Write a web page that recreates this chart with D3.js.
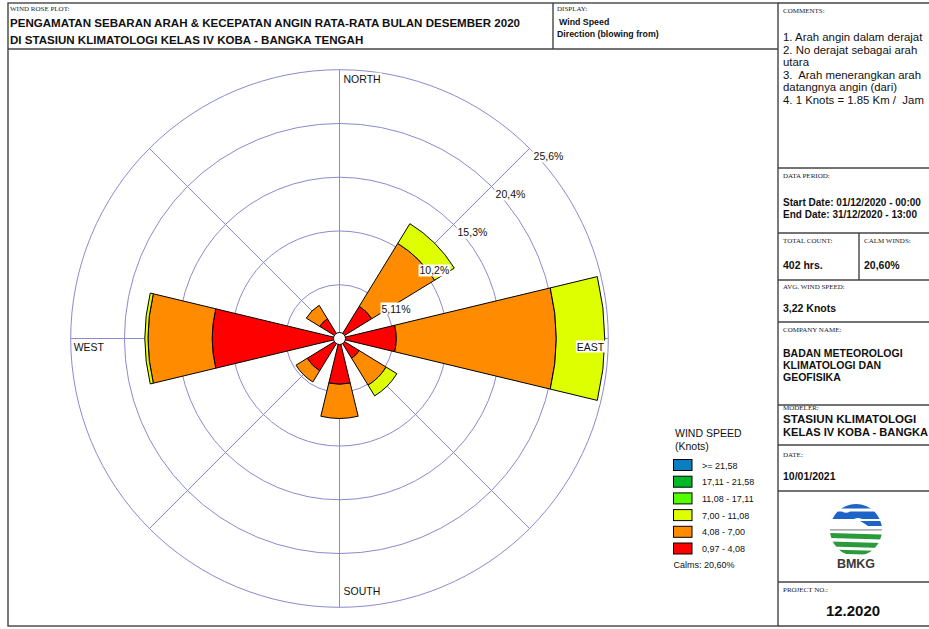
<!DOCTYPE html>
<html><head><meta charset="utf-8">
<script src="https://cdn.jsdelivr.net/npm/d3@7"></script>
<style>
html,body{margin:0;padding:0;background:#fff;}
svg{display:block;font-family:"Liberation Sans",Arial,sans-serif;}
text{white-space:pre;}
.cap{font-family:"Liberation Serif","Times New Roman",serif;font-size:7px;fill:#222;}
</style></head>
<body>
<svg id="chart" width="929" height="629"></svg>
<script>
// ---------- DATA ----------
const directions = ["N","NE","E","SE","S","SW","W","NW"];
const dirLabels = ["NORTH","EAST","SOUTH","WEST"];
// speed classes (legend order, top to bottom)
const speedClasses = [">= 21,58","17,11 - 21,58","11,08 - 17,11","7,00 - 11,08","4,08 - 7,00","0,97 - 4,08"];
const classColors = ["#0a7fc0","#00b92a","#55ff00","#ddff00","#ff8c00","#ff0000"];
// frequency (%) per direction, per speed class
const freq_0_97_4_08  = [0, 3.6, 5.4, 2.2, 4.35, 3.6, 12.1, 2.2];
const freq_4_08_7_00  = [0, 7.0, 15.2, 3.0, 3.25, 1.25, 6.1, 1.5];
const freq_7_00_11_08 = [0, 2.2, 4.6, 1.2, 0, 0, 0.3, 0];
const freq_11_08_17_11 = [0, 0, 0, 0, 0, 0, 0, 0];
const freq_17_11_21_58 = [0, 0, 0, 0, 0, 0, 0, 0];
const freq_ge_21_58    = [0, 0, 0, 0, 0, 0, 0, 0];
const ringValues = [5.11, 10.22, 15.33, 20.44, 25.55];
const ringLabels = ["5,11%","10,2%","15,3%","20,4%","25,6%"];
const calmsLabel = "Calms: 20,60%";

// ---------- SETUP ----------
const svg = d3.select("#chart");
const cx = 339.5, cy = 338.5;
const r = d3.scaleLinear().domain([0, 25.55]).range([0, 268.8]);
const angle = d3.scalePoint().domain(directions).range([0, 315]); // degrees
const halfW = 13.5 * Math.PI / 180;
const ring = "#8a8ad0";
const frameC = "#444";

// stacked series from inner (slow) to outer (fast)
const seriesInner = [freq_0_97_4_08, freq_4_08_7_00, freq_7_00_11_08, freq_11_08_17_11, freq_17_11_21_58, freq_ge_21_58];
const seriesColors = classColors.slice().reverse();

// ---------- FRAME ----------
const fr = svg.append("g").attr("fill","none").attr("stroke",frameC).attr("stroke-width",1.4);
fr.append("rect").attr("x",8).attr("y",3).attr("width",770).attr("height",623);
fr.append("line").attr("x1",8).attr("x2",778).attr("y1",49).attr("y2",49);
fr.append("line").attr("x1",553).attr("x2",553).attr("y1",3).attr("y2",49);
fr.append("line").attr("x1",778).attr("x2",929).attr("y1",3).attr("y2",3);
fr.append("line").attr("x1",778).attr("x2",929).attr("y1",626).attr("y2",626);
[168,233,280,322,405,445,491,582].forEach(y=>{
  fr.append("line").attr("x1",778).attr("x2",929).attr("y1",y).attr("y2",y);
});
fr.append("line").attr("x1",859).attr("x2",859).attr("y1",233).attr("y2",280);

// ---------- TITLE ----------
svg.append("text").attr("class","cap").attr("x",10).attr("y",11).text("WIND ROSE PLOT:");
svg.append("text").attr("x",10).attr("y",26.5).attr("font-size",11.55).attr("font-weight","bold").attr("fill","#111")
  .text("PENGAMATAN SEBARAN ARAH & KECEPATAN ANGIN RATA-RATA BULAN DESEMBER 2020");
svg.append("text").attr("x",10).attr("y",43.5).attr("font-size",11.55).attr("font-weight","bold").attr("fill","#111")
  .text("DI STASIUN KLIMATOLOGI KELAS IV KOBA - BANGKA TENGAH");
svg.append("text").attr("class","cap").attr("x",557).attr("y",11).text("DISPLAY:");
svg.append("text").attr("x",559).attr("y",24.5).attr("font-size",8.8).attr("font-weight","bold").attr("fill","#111").text("Wind Speed");
svg.append("text").attr("x",557).attr("y",36.5).attr("font-size",8.8).attr("font-weight","bold").attr("fill","#111").text("Direction (blowing from)");

// ---------- ROSE GRID ----------
const g = svg.append("g").attr("transform",`translate(${cx},${cy})`);
g.selectAll("circle.ring").data(ringValues).join("circle").attr("class","ring")
  .attr("r",d=>r(d)).attr("fill","none").attr("stroke",ring).attr("stroke-width",1);
g.selectAll("line.spoke").data(directions).join("line").attr("class","spoke")
  .attr("x1",0).attr("y1",0)
  .attr("x2",d=>r(25.55)*Math.sin(angle(d)*Math.PI/180))
  .attr("y2",d=>-r(25.55)*Math.cos(angle(d)*Math.PI/180))
  .attr("stroke",ring).attr("stroke-width",1);

// ---------- BARS ----------
const arc = d3.arc();
directions.forEach((dir,i)=>{
  let acc = 0;
  const a = angle(dir)*Math.PI/180;
  seriesInner.forEach((s,k)=>{
    const v = s[i];
    if (v > 0) {
      g.append("path")
        .attr("d", arc({innerRadius:r(acc), outerRadius:r(acc+v), startAngle:a-halfW, endAngle:a+halfW}))
        .attr("fill", seriesColors[k]).attr("stroke","#000").attr("stroke-width",1);
    }
    acc += v;
  });
});
g.append("circle").attr("r",6).attr("fill","#fff").attr("stroke","#000").attr("stroke-width",1);

// ring labels (along 45 deg)
ringValues.forEach((v,i)=>{
  const px = r(v)*Math.SQRT1_2, py = -r(v)*Math.SQRT1_2;
  const t = g.append("text").attr("x",px+4).attr("y",py+12).attr("font-size",10.5).attr("fill","#111").text(ringLabels[i]);
  const bb = t.node().getBBox();
  g.insert("rect", () => t.node()).attr("x",bb.x-1).attr("y",bb.y).attr("width",bb.width+2).attr("height",bb.height).attr("fill","#fff");
});

// direction labels
const R = r(25.55);
const dl = [
  {t:dirLabels[0], x:4, y:-R+13, anchor:"start"},
  {t:dirLabels[1], x:R-4, y:12, anchor:"end"},
  {t:dirLabels[2], x:4, y:R-12, anchor:"start"},
  {t:dirLabels[3], x:-R+3, y:12, anchor:"start"}
];
dl.forEach(d=>{
  const t = g.append("text").attr("x",d.x).attr("y",d.y).attr("text-anchor",d.anchor).attr("font-size",10.5).attr("fill","#111").text(d.t);
  const bb = t.node().getBBox();
  g.insert("rect", () => t.node()).attr("x",bb.x-1).attr("y",bb.y).attr("width",bb.width+2).attr("height",bb.height).attr("fill","#fff");
});

// ---------- LEGEND ----------
const lg = svg.append("g");
lg.append("text").attr("x",675).attr("y",437).attr("font-size",10.5).attr("fill","#111").text("WIND SPEED");
lg.append("text").attr("x",675).attr("y",449.5).attr("font-size",10.5).attr("fill","#111").text("(Knots)");
speedClasses.forEach((c,i)=>{
  const y = 459.5 + i*16.7;
  lg.append("rect").attr("x",673.5).attr("y",y).attr("width",18.5).attr("height",11).attr("fill",classColors[i]).attr("stroke","#000").attr("stroke-width",1);
  lg.append("text").attr("x",702).attr("y",y+9).attr("font-size",9).attr("fill","#111").text(c);
});
lg.append("text").attr("x",673.5).attr("y",567.5).attr("font-size",9).attr("fill","#111").text(calmsLabel);

// ---------- RIGHT PANEL ----------
const rp = svg.append("g");
const capT = (y,t,x=783)=>rp.append("text").attr("class","cap").attr("x",x).attr("y",y).text(t);
const txt = (y,t,opt={})=>rp.append("text").attr("x",opt.x||783).attr("y",y).attr("font-size",opt.size||11)
  .attr("font-weight",opt.bold?"bold":"normal").attr("text-anchor",opt.anchor||"start").attr("fill","#111").text(t);
capT(13,"COMMENTS:");
["1. Arah angin dalam derajat","2. No derajat sebagai arah","utara","3.  Arah menerangkan arah","datangnya angin (dari)","4. 1 Knots = 1.85 Km /  Jam"]
  .forEach((l,i)=>txt(41+i*12.6,l,{size:11.4}));
capT(178,"DATA PERIOD:");
txt(205.5,"Start Date: 01/12/2020 - 00:00",{bold:true,size:10});
txt(217.5,"End Date: 31/12/2020 - 13:00",{bold:true,size:10});
capT(243,"TOTAL COUNT:");
capT(243,"CALM WINDS:",864);
txt(268.5,"402 hrs.",{bold:true,size:10.5});
txt(268.5,"20,60%",{bold:true,size:10.5,x:864});
capT(289,"AVG. WIND SPEED:");
txt(311.5,"3,22 Knots",{bold:true,size:10.5});
capT(332,"COMPANY NAME:");
txt(356.5,"BADAN METEOROLOGI",{bold:true,size:10.5});
txt(368.5,"KLIMATOLOGI DAN",{bold:true,size:10.5});
txt(380.5,"GEOFISIKA",{bold:true,size:10.5});
capT(410,"MODELER:");
txt(422.5,"STASIUN KLIMATOLOGI",{bold:true,size:11.6});
txt(435.5,"KELAS IV KOBA - BANGKA",{bold:true,size:11.1});
capT(457,"DATE:");
txt(480,"10/01/2021",{bold:true,size:10.5});
capT(592,"PROJECT NO.:");
txt(615.5,"12.2020",{bold:true,size:15,x:853,anchor:"middle"});

// BMKG logo
const lx = 856, ly = 530;
const defs = svg.append("defs");
defs.append("clipPath").attr("id","lc").append("circle").attr("cx",lx).attr("cy",ly).attr("r",26);
const logo = svg.append("g").attr("clip-path","url(#lc)");
logo.append("rect").attr("x",lx-30).attr("y",ly-30).attr("width",60).attr("height",8.5).attr("fill","#1e63c8");
logo.append("path").attr("d",`M${lx-30},${ly-18.5} L${lx-14},${ly-18.5} Q${lx-10},${ly-16} ${lx-6},${ly-18.5} L${lx+30},${ly-18.5} L${lx+30},${ly-11} L${lx+6},${ly-11} Q${lx+2},${ly-13} ${lx-2},${ly-11} L${lx-30},${ly-11} Z`).attr("fill","#1e63c8");
logo.append("path").attr("d",`M${lx+4},${ly-9} L${lx+30},${ly-9} L${lx+30},${ly-4} L${lx+12},${ly-4} Q${lx+8},${ly-7} ${lx+4},${ly-9} Z`).attr("fill","#1e63c8");
logo.append("rect").attr("x",lx-30).attr("y",ly-0.8).attr("width",60).attr("height",1.4).attr("fill","#9a9a9a");
[[3,6.5],[11.5,6.5],[19.5,5.5],[26.5,3]].forEach(([dy,h],i)=>{
  logo.append("path").attr("d",`M${lx-30},${ly+dy} L${lx+30},${ly+dy+1.5} L${lx+30},${ly+dy+h} L${lx-30},${ly+dy+h-1.5} Z`).attr("fill","#2b9a3a");
});
rp.append("text").attr("x",lx).attr("y",ly+38).attr("text-anchor","middle").attr("font-size",12.5).attr("font-weight","bold").attr("fill","#3a3a3a").text("BMKG");
</script>
</body></html>
